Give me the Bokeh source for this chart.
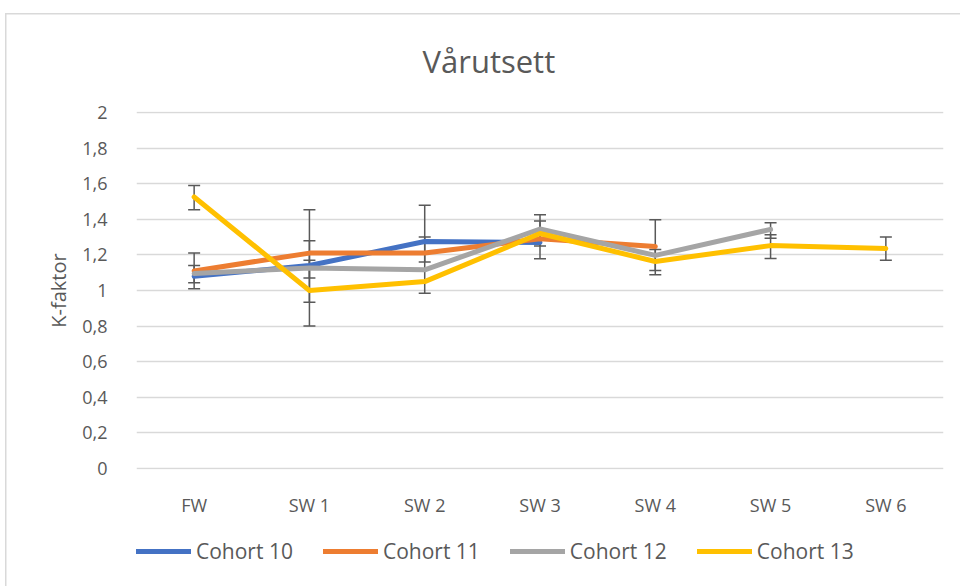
from bokeh.plotting import figure
from bokeh.layouts import column
from bokeh.models import (ColumnDataSource, FactorRange, Range1d, FixedTicker, Legend,
                          LegendItem, Whisker, TeeHead)
from bokeh.embed import file_html
from bokeh.resources import INLINE

categories = ["FW", "SW 1", "SW 2", "SW 3", "SW 4", "SW 5", "SW 6"]
series_names = ["Cohort 10", "Cohort 11", "Cohort 12", "Cohort 13"]
colors = ["#4472C4", "#ED7D31", "#A5A5A5", "#FFC000"]

cohort10 = [1.08, 1.14, 1.275, 1.27, None, None, None]
cohort11 = [1.11, 1.21, 1.21, 1.29, 1.247, None, None]
cohort12 = [1.095, 1.127, 1.116, 1.345, 1.197, 1.343, None]
cohort13 = [1.525, 1.00, 1.05, 1.32, 1.163, 1.252, 1.236]

# error bar limits (lower, upper) per category
err10_low = [None, 1.07, 1.16, None, None, None, None]
err10_up = [None, 1.28, 1.30, None, None, None, None]
err11_low = [1.01, 0.934, 0.985, 1.178, 1.088, None, None]
err11_up = [1.21, 1.453, 1.478, 1.425, 1.397, None, None]
err12_low = [1.043, None, None, None, 1.112, 1.294, None]
err12_up = [1.14, None, None, None, 1.23, 1.38, None]
err13_low = [1.453, 0.80, None, 1.25, None, 1.18, 1.17]
err13_up = [1.59, 1.17, None, 1.39, None, 1.313, 1.30]

y_ticks = [0, 0.2, 0.4, 0.6, 0.8, 1.0, 1.2, 1.4, 1.6, 1.8, 2.0]
y_tick_labels = ["0", "0,2", "0,4", "0,6", "0,8", "1", "1,2", "1,4", "1,6", "1,8", "2"]

values = [cohort10, cohort11, cohort12, cohort13]
err_low = [err10_low, err11_low, err12_low, err13_low]
err_up = [err10_up, err11_up, err12_up, err13_up]

FONT = "Open Sans"
TXT = "#595959"

p = figure(width=960, height=530, x_range=FactorRange(factors=categories),
           y_range=Range1d(-0.005, 2.005), output_backend="svg", toolbar_location=None,
           min_border_left=136, min_border_right=17, min_border_top=111,
           min_border_bottom=61)
p.outline_line_color = None
p.background_fill_color = "white"
p.border_fill_alpha = 0

p.title.text = "Vårutsett"
p.title.align = "left"
p.title.offset = 286
p.title.standoff = 60
p.title.text_font = FONT
p.title.text_font_size = "31px"
p.title.text_font_style = "normal"
p.title.text_color = TXT

p.xgrid.grid_line_color = None
p.ygrid.grid_line_color = "#d9d9d9"
p.ygrid.grid_line_width = 1.5

for ax in (p.xaxis, p.yaxis):
    ax.axis_line_color = None
    ax.major_tick_line_color = None
    ax.minor_tick_line_color = None
    ax.major_label_text_font = FONT
    ax.major_label_text_font_size = "18px"
    ax.major_label_text_color = TXT

p.yaxis.ticker = FixedTicker(ticks=y_ticks)
p.yaxis.major_label_overrides = {t: l for t, l in zip(y_ticks, y_tick_labels)}
p.yaxis.major_label_standoff = 23
p.xaxis.major_label_standoff = 17
p.yaxis.axis_label = "K-faktor"
p.yaxis.axis_label_text_font = FONT
p.yaxis.axis_label_text_font_size = "20px"
p.yaxis.axis_label_text_font_style = "normal"
p.yaxis.axis_label_text_color = TXT
p.yaxis.axis_label_standoff = 7

# separate strip for the legend below the chart
lf = figure(width=960, height=56, x_range=Range1d(0, 1), y_range=Range1d(0, 1),
            output_backend="svg", toolbar_location=None,
            min_border_left=0, min_border_right=0, min_border_top=0, min_border_bottom=0)
lf.xaxis.visible = False
lf.yaxis.visible = False
lf.grid.visible = False
lf.outline_line_color = None
lf.background_fill_alpha = 0
lf.border_fill_alpha = 0

items = []
for name, col, vals, lo, up in zip(series_names, colors, values, err_low, err_up):
    xs = [c for c, v in zip(categories, vals) if v is not None]
    ys = [v for v in vals if v is not None]
    ex = [c for c, a in zip(categories, lo) if a is not None]
    el = [a for a in lo if a is not None]
    eu = [b for b in up if b is not None]
    if ex:
        esrc = ColumnDataSource(dict(x=ex, lower=el, upper=eu))
        w = Whisker(base="x", lower="lower", upper="upper", source=esrc,
                    line_color=TXT, line_width=1.5,
                    upper_head=TeeHead(size=12, line_color=TXT, line_width=1.5),
                    lower_head=TeeHead(size=12, line_color=TXT, line_width=1.5))
        p.add_layout(w)
    p.line(xs, ys, line_color=col, line_width=5, line_join="round", line_cap="round")
    # legend proxy (lies outside the strip's visible range)
    r = lf.line([-5, -4], [-5, -4], line_color=col, line_width=5, line_cap="round")
    items.append(LegendItem(label=name, renderers=[r]))

legend = Legend(items=items, orientation="horizontal", location=(0, 21),
                glyph_width=55, glyph_height=20, label_height=20, label_standoff=5,
                spacing=30, padding=0, margin=0, border_line_color=None,
                background_fill_alpha=0, label_text_font=FONT,
                label_text_font_size="21px", label_text_color=TXT)
lf.add_layout(legend)

# thin chart-area border (left and top edges) drawn as page background
border_bg = ("linear-gradient(#d9d9d9, #d9d9d9) 5px 13px / 1.5px 700px no-repeat, "
             "linear-gradient(#d9d9d9, #d9d9d9) 5px 13px / 1200px 1.5px no-repeat, white")
layout = column(p, lf, spacing=0, styles={"background": border_bg})
open("out.html", "w").write(file_html(layout, INLINE))
